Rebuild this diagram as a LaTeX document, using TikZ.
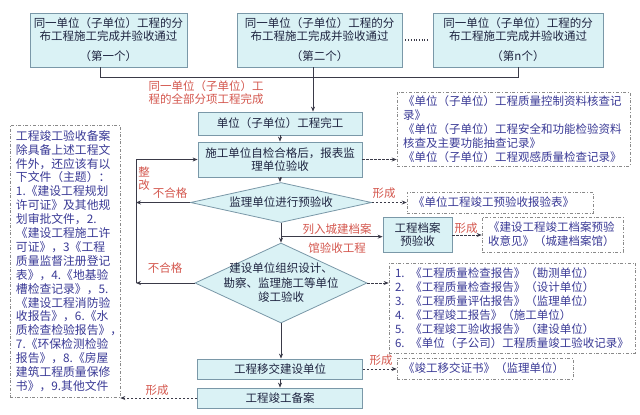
\documentclass[tikz,border=0pt]{standalone}
\usepackage{fontspec}
\newfontfamily\cjk{Noto Sans CJK SC}
\usetikzlibrary{shapes.geometric,arrows.meta,calc}
\definecolor{boxfill}{HTML}{DAF2F5}
\definecolor{boxline}{HTML}{7A98A8}
\definecolor{boxtext}{HTML}{1E2440}
\definecolor{redtext}{HTML}{D4574E}
\definecolor{dtext}{HTML}{3A3A96}
\definecolor{dline}{HTML}{8A8A8A}
\definecolor{linec}{HTML}{3A3A48}
\begin{document}
\begin{tikzpicture}[x=1pt,y=-1pt,
 every node/.style={font=\cjk\fontsize{11.5}{13}\selectfont},
 cbox/.style={draw=boxline, fill=boxfill, text=boxtext, align=center, inner sep=0pt, line width=0.8pt},
 dia/.style={shape=diamond, draw=boxline, fill=boxfill, inner sep=0pt, line width=0.8pt},
 dbox/.style={draw=dline, dash dot, text=dtext, align=left, inner xsep=6pt, inner ysep=0pt, line width=0.6pt, font=\cjk\fontsize{11.5}{14}\selectfont},
 rlab/.style={text=redtext, align=center, inner sep=0pt},
 arr/.style={draw=linec, line width=0.7pt, -{Stealth[length=5pt,width=4pt]}},
 darr/.style={arr, dash pattern=on 2.5pt off 1.5pt},
 ln/.style={draw=linec, line width=0.7pt}]
\fill[white] (0,0) rectangle (640,415);
\useasboundingbox (0,0) rectangle (640,415);

% top boxes
\node[cbox, minimum width=157, minimum height=54] (b1) at (108.5,40) {同一单位（子单位）工程的分\\布工程施工完成并验收通过\\[7pt]（第一个）};
\node[cbox, minimum width=165, minimum height=54] (b2) at (319.5,40) {同一单位（子单位）工程的分\\布工程施工完成并验收通过\\[7pt]（第二个）};
\node[cbox, minimum width=170, minimum height=54] (b3) at (518,40) {同一单位（子单位）工程的分\\布工程施工完成并验收通过\\[7pt]（第n个）};
\draw[ln, dotted, line width=1.2pt, shorten <=3pt, shorten >=3pt] (b2.east) -- (b3.west);

\coordinate (j1) at (100,77);
\draw[ln] (j1 |- b1.south) -- (j1) -- (j1 -| b3.south) -- (b3.south);
\coordinate (j2) at (313,77);

\node[rlab, align=left] (lab0) at (206,93) {同一单位（子单位）工\\程的全部分项工程完成};

% main flow
\node[cbox, minimum width=164, minimum height=23] (unit) at (280,123.5) {单位（子单位）工程完工};
\draw[arr] (j2 |- b2.south) -- (j2 |- unit.north);
\node[cbox, minimum width=164, minimum height=35] (sg) at (280,159.5) {施工单位自检合格后，报表监\\理单位验收};
\draw[arr] (unit) -- (sg);

\node[dia, minimum width=181, minimum height=40] (d1) at (281,202.5) {};
\node[text=boxtext] (d1t) at (d1) {监理单位进行预验收};
\draw[arr] (sg.south) -- (sg.south |- d1.north);

\node[dia, minimum width=172, minimum height=80] (d2) at (281,283) {};
\node[text=boxtext, align=center, font=\cjk\fontsize{11.5}{14.5}\selectfont] (d2t) at (d2) {建设单位组织设计、\\勘察、监理施工等单位\\竣工验收};
\draw[arr] (d1.south) -- (d2.north);
\coordinate (j3) at ($(d1.south)!0.7!(d2.north)$);

\node[cbox, minimum width=69, minimum height=35] (da) at (417.5,235) {工程档案\\预验收};
\draw[arr] (j3) -- (j3 -| da.west);
\node[rlab] (lab1) at (337,229) {列入城建档案};
\node[rlab] (lab2) at (337,248) {馆验收工程};

% left loop
\coordinate (L) at (136,0);
\draw[arr] (d1.west) -- (d1.west -| L);
\draw[arr] (d2.west) -- (d2.west -| L);
\draw[arr] (L |- d2.west) -- (L |- sg.west) -- (sg.west);
\node[rlab] (zg) at (144,178.5) {整\\改};
\node[rlab] (bh1) at (170,193) {不合格};
\node[rlab] (bh2) at (165,268) {不合格};

% right dashed boxes
\node[dbox, minimum width=233, minimum height=74, text width=221] (r1) at (513.5,129) {《单位（子单位）工程质量控制资料核查记\\录》\\《单位（子单位）工程安全和功能检验资料\\核查及主要功能抽查记录》\\《单位（子单位）工程观感质量检查记录》};
\draw[darr] (sg.east) -- (sg.east -| r1.west);

\node[dbox, minimum width=186, minimum height=21, text width=174] (r2) at (500,202.5) {《单位工程竣工预验收报验表》};
\draw[darr] (d1.east) -- (d1.east -| r2.west);
\node[rlab] (f1) at (384,193) {形成};

\node[dbox, minimum width=141, minimum height=35, text width=129] (r3) at (552.5,234.5) {《建设工程竣工档案预验\\收意见》（城建档案馆）};
\draw[darr] (da.east) -- (da.east -| r3.west);
\node[rlab] (f2) at (466,228) {形成};

\node[dbox, minimum width=246, minimum height=90, text width=234] (r4) at (512,308) {1. 《工程质量检查报告》（勘测单位）\\2. 《工程质量检查报告》（设计单位）\\3. 《工程质量评估报告》（监理单位）\\4. 《工程竣工报告》（施工单位）\\5. 《工程竣工验收报告》（建设单位）\\6. 《单位（子公司）工程质量竣工验收记录》};
\draw[darr] (d2.east) -- (d2.east -| r4.west);

% bottom
\node[cbox, minimum width=165, minimum height=20] (yj) at (280,369) {工程移交建设单位};
\node[cbox, minimum width=165, minimum height=20] (ba) at (280,398) {工程竣工备案};
\draw[arr] (d2.south) -- (d2.south |- yj.north);
\draw[arr] (yj) -- (ba);

\node[dbox, minimum width=176, minimum height=21, text width=164] (r5) at (485,368.5) {《竣工移交证书》（监理单位）};
\draw[darr] (yj.east) -- (yj.east -| r5.west);
\node[rlab] (f3) at (381,360) {形成};

\node[dbox, minimum width=110, minimum height=272, text width=98, font=\cjk\fontsize{11.8}{13.9}\selectfont] (lb) at (65,261) {工程竣工验收备案\\除具备上述工程文\\件外，还应该有以\\下文件（主题）：\\1.《建设工程规划\\许可证》及其他规\\划审批文件，2.\\《建设工程施工许\\可证》，3《工程\\质量监督注册登记\\表》，4.《地基验\\槽检查记录》，5.\\《建设工程消防验\\收报告》，6.《水\\质检查检验报告》，\\7.《环保检测检验\\报告》，8.《房屋\\建筑工程质量保修\\书》，9.其他文件};
\draw[darr] (ba.west) -- (ba.west -| lb.east);
\node[rlab] (f4) at (157,390) {形成};
\end{tikzpicture}
\end{document}
